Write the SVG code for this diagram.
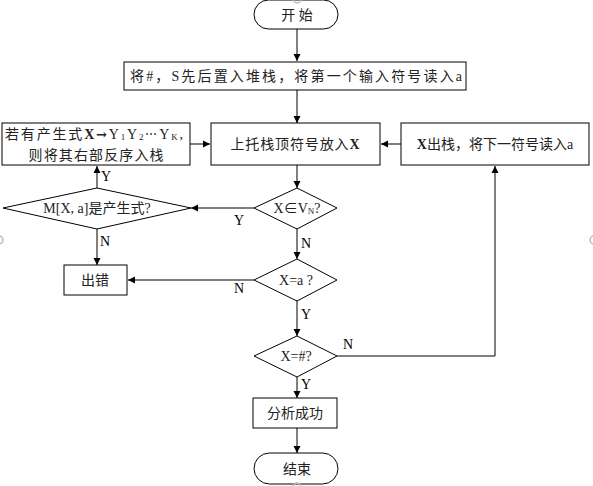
<svg xmlns="http://www.w3.org/2000/svg" width="593" height="486" viewBox="0 0 593 486">
<defs>
<marker id="ah" markerWidth="8" markerHeight="8" refX="7" refY="4" orient="auto" markerUnits="userSpaceOnUse">
<path d="M0,0.5 L7,4 L0,7.5 Z" fill="#000"/>
</marker>
<style>
.s{fill:#fff;stroke:#000;stroke-width:1}
.t{font-family:"Liberation Serif","Noto Sans CJK SC",serif;font-size:14px;fill:#222;text-anchor:middle;dominant-baseline:central}
.l{font-family:"Liberation Serif",serif;font-size:14px;fill:#000}
.c{fill:none;stroke:#000;stroke-width:1}
.h{fill:none;stroke:#bbb;stroke-width:1.5}
.sym{font-family:"DejaVu Serif",serif}
</style>
</defs>
<rect width="593" height="486" fill="#fff"/>
<g id="connectors">
<path class="c" d="M297,29 V61" marker-end="url(#ah)"/>
<path class="c" d="M297,90 V123" marker-end="url(#ah)"/>
<path class="c" d="M297,165 V188" marker-end="url(#ah)"/>
<path class="c" d="M254,208 H191" marker-end="url(#ah)"/>
<path class="c" d="M97,188 V166" marker-end="url(#ah)"/>
<path class="c" d="M190,144 H210" marker-end="url(#ah)"/>
<path class="c" d="M97,229 V265" marker-end="url(#ah)"/>
<path class="c" d="M297,229 V259" marker-end="url(#ah)"/>
<path class="c" d="M254,280 H128" marker-end="url(#ah)"/>
<path class="c" d="M297,301 V336" marker-end="url(#ah)"/>
<path class="c" d="M337,356 H495 V166" marker-end="url(#ah)"/>
<path class="c" d="M401,144 H381" marker-end="url(#ah)"/>
<path class="c" d="M297,377 V398" marker-end="url(#ah)"/>
<path class="c" d="M297,428 V453" marker-end="url(#ah)"/>
<text class="l" x="234" y="225">Y</text>
<text class="l" x="101" y="181">Y</text>
<text class="l" x="100" y="246">N</text>
<text class="l" x="301" y="248">N</text>
<text class="l" x="234" y="293">N</text>
<text class="l" x="301" y="319">Y</text>
<text class="l" x="343" y="349">N</text>
<text class="l" x="301" y="389">Y</text>
</g>
<g id="start">
<rect class="s" x="254" y="0" width="84" height="29" rx="14.5"/>
<text class="t" x="297" y="15">开 始</text>
</g>
<g id="init">
<rect class="s" x="124" y="62" width="342" height="28"/>
<text class="t" x="296" y="76" textLength="332" lengthAdjust="spacing">将#，S先后置入堆栈，将第一个输入符号读入a</text>
</g>
<g id="top">
<rect class="s" x="211" y="123" width="169" height="42"/>
<text class="t" x="295" y="144" textLength="129" lengthAdjust="spacing">上托栈顶符号放入<tspan font-weight="bold">X</tspan></text>
</g>
<g id="push">
<rect class="s" x="2" y="123" width="188" height="42"/>
<text class="t" x="94" y="134" textLength="178" lengthAdjust="spacing">若有产生式<tspan font-weight="bold">X</tspan><tspan class="sym" font-weight="bold" font-size="13">→</tspan>Y<tspan font-size="9" dy="3">1</tspan><tspan dy="-3">Y</tspan><tspan font-size="9" dy="3">2</tspan><tspan class="sym" dy="-3" font-size="12">⋯</tspan>Y<tspan font-size="9" dy="3">K</tspan><tspan dy="-3">,</tspan></text>
<text class="t" x="96" y="155" textLength="135" lengthAdjust="spacing">则将其右部反序入栈</text>
</g>
<g id="pop">
<rect class="s" x="401" y="123" width="188" height="42"/>
<text class="t" x="495" y="144"><tspan font-weight="bold">X</tspan>出栈，将下一符号读入a</text>
</g>
<g id="isVN">
<polygon class="s" points="297,188 337,208 297,229 254,208"/>
<text class="t" x="297" y="208">X∈V<tspan font-size="9" dy="3">N</tspan><tspan dy="-3">?</tspan></text>
</g>
<g id="isProd">
<polygon class="s" points="97,188 191,208 97,229 3,208"/>
<text class="t" x="97" y="208">M[X, a]是产生式?</text>
</g>
<g id="error">
<rect class="s" x="64" y="265" width="63" height="30"/>
<text class="t" x="95" y="280">出错</text>
</g>
<g id="isA">
<polygon class="s" points="297,259 337,280 297,301 254,280"/>
<text class="t" x="296" y="280">X=a ?</text>
</g>
<g id="isHash">
<polygon class="s" points="297,336 337,356 297,377 254,356"/>
<text class="t" x="296" y="356">X=#?</text>
</g>
<g id="success">
<rect class="s" x="253" y="398" width="84" height="30"/>
<text class="t" x="295" y="413">分析成功</text>
</g>
<g id="end">
<rect class="s" x="254" y="453" width="84" height="31" rx="15.5"/>
<text class="t" x="297" y="469">结束</text>
</g>
<g id="handles">
<circle class="h" cx="297" cy="-1" r="4"/>
<circle class="h" cx="-1" cy="240" r="4"/>
<circle class="h" cx="594" cy="240" r="4"/>
<circle class="h" cx="297" cy="487" r="4"/>
</g>
</svg>
